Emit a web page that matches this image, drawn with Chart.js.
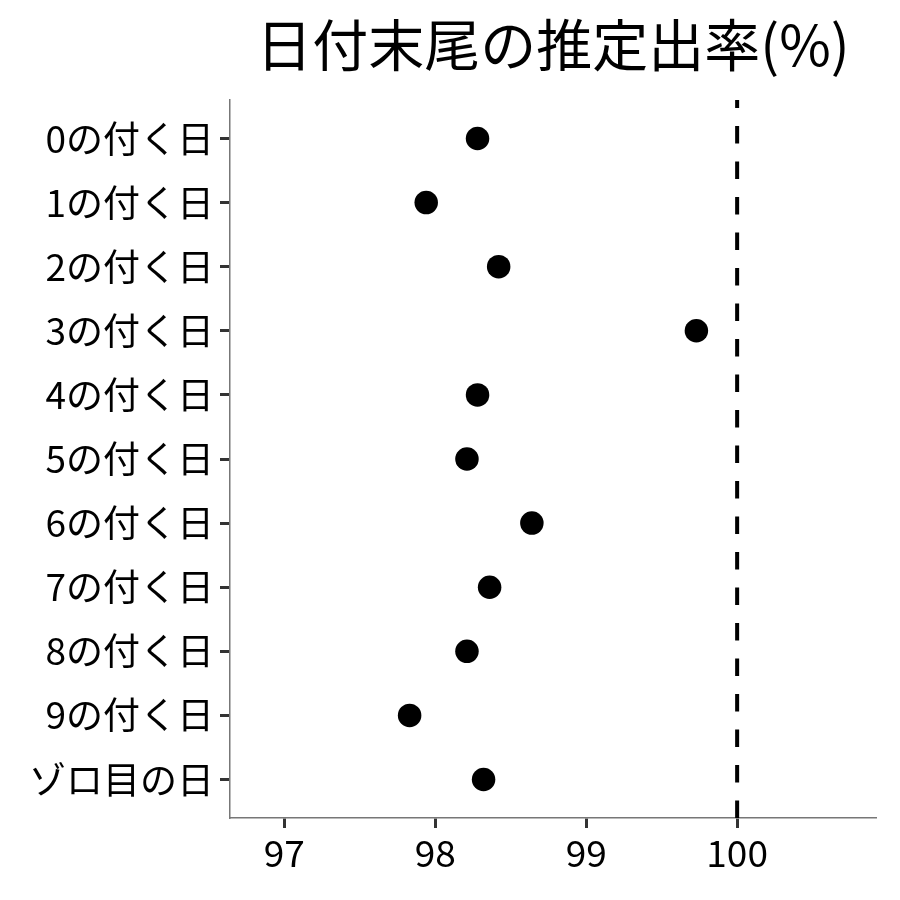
<!DOCTYPE html>
<html>
<head>
<meta charset="utf-8">
<script src="https://cdn.jsdelivr.net/npm/chart.js@4.4.0/dist/chart.umd.min.js"></script>
<style>
html,body{margin:0;padding:0;background:#fff;}
#wrap{width:900px;height:900px;}
</style>
</head>
<body>
<div id="wrap"><canvas id="c" width="900" height="900"></canvas></div>
<script>
const categories = ["0の付く日","1の付く日","2の付く日","3の付く日","4の付く日","5の付く日","6の付く日","7の付く日","8の付く日","9の付く日","ゾロ目の日"];
const rates = [98.28, 97.94, 98.42, 99.73, 98.28, 98.21, 98.64, 98.36, 98.21, 97.83, 98.32];
const xTicks = [97, 98, 99, 100];
const refValue = 100;
const titleText = "日付末尾の推定出率(%)";

const FONT = '"Noto Sans CJK JP", "Noto Sans", sans-serif';

const pts = rates.map((v, i) => ({x: v, y: i}));
const refLine = [{x: refValue, y: -0.6}, {x: refValue, y: categories.length - 0.4}];

new Chart(document.getElementById('c'), {
  type: 'scatter',
  data: {
    datasets: [
      {
        data: refLine,
        showLine: true,
        borderColor: '#000',
        borderWidth: 4,
        borderDash: [17.5, 18],
        borderDashOffset: 9.5,
        borderCapStyle: 'butt',
        pointRadius: 0,
        order: 2
      },
      {
        data: pts,
        pointRadius: 11.75,
        pointHoverRadius: 11.75,
        backgroundColor: '#000',
        borderColor: '#000',
        borderWidth: 0,
        order: 1
      }
    ]
  },
  options: {
    responsive: false,
    animation: false,
    layout: {padding: {left: 0, right: 24, top: 0, bottom: 0}},
    plugins: {
      legend: {display: false},
      tooltip: {enabled: false},
      title: {
        display: true,
        text: titleText,
        fullSize: false,
        color: '#000',
        font: {family: FONT, size: 56, weight: 'normal'},
        padding: {top: 11, bottom: 21.8}
      }
    },
    scales: {
      x: {
        type: 'linear',
        min: 96.64,
        max: 100.92,
        afterBuildTicks: s => { s.ticks = xTicks.map(v => ({value: v})); },
        afterFit: s => { s.height = 82; },
        ticks: {
          color: '#000',
          font: {family: FONT, size: 37},
          padding: 3,
          callback: v => String(v)
        },
        grid: {drawOnChartArea: false, tickLength: 10, tickColor: '#333', tickWidth: 3},
        border: {color: '#777', width: 1.5}
      },
      y: {
        type: 'linear',
        reverse: true,
        min: -0.6,
        max: categories.length - 0.4,
        afterBuildTicks: s => { s.ticks = categories.map((_, i) => ({value: i})); },
        afterFit: s => { s.width = 230; },
        ticks: {
          color: '#000',
          font: {family: FONT, size: 37},
          padding: 6,
          callback: v => categories[v]
        },
        grid: {drawOnChartArea: false, tickLength: 10, tickColor: '#333', tickWidth: 3},
        border: {color: '#777', width: 1.5}
      }
    }
  }
});
</script>
</body>
</html>
